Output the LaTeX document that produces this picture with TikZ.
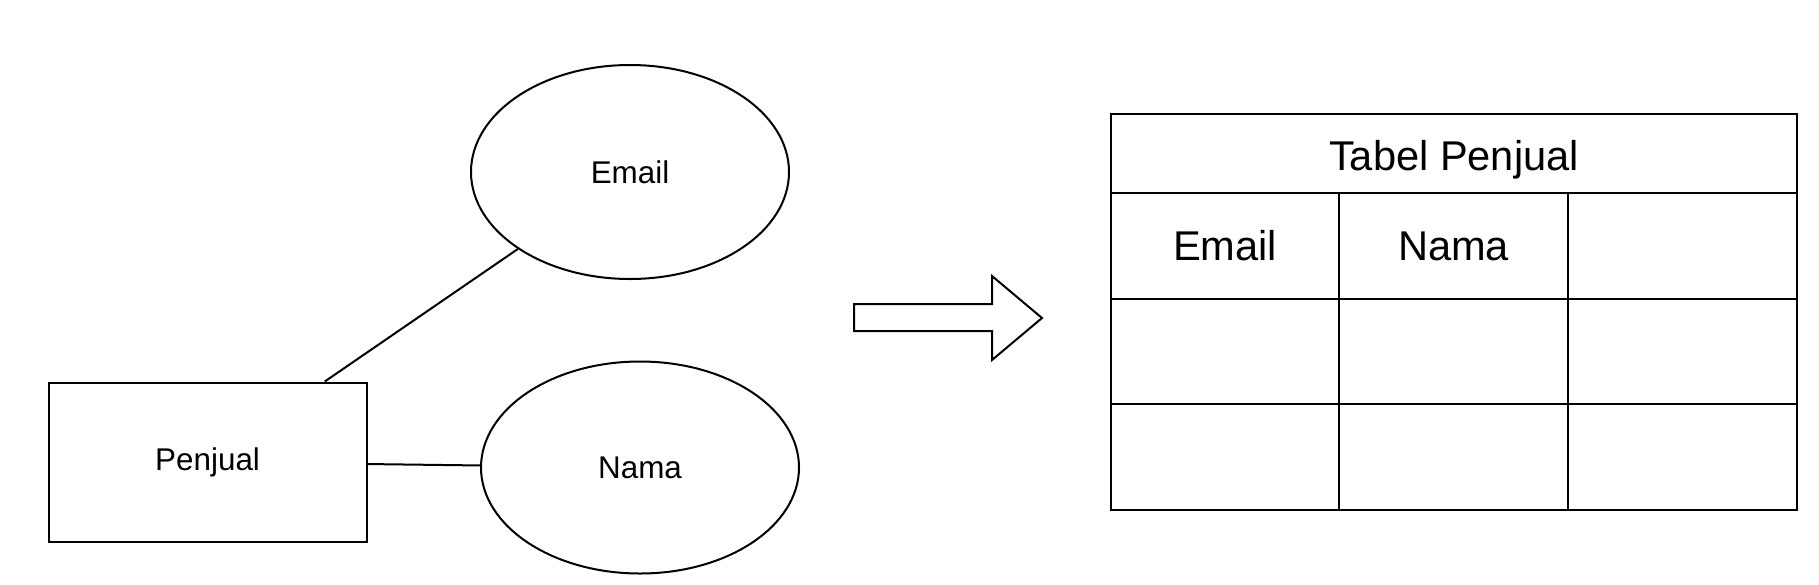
\documentclass[tikz,border=0pt]{standalone}
\usepackage{fontspec}
\setmainfont{Liberation Sans}
\usepackage{tikz}
\usetikzlibrary{shapes.geometric}

\begin{document}
\begin{tikzpicture}[x=0.5pt, y=-0.5pt, line width=1pt,
  entity/.style={draw, rectangle, minimum width=159pt, minimum height=79.5pt, inner sep=0pt, font=\fontsize{15.7}{18}\selectfont},
  attrib/.style={draw, ellipse, minimum width=159pt, minimum height=107pt, inner sep=0pt, font=\fontsize{15.7}{18}\selectfont},
  cell/.style={font=\fontsize{20.8}{24}\selectfont}]
\useasboundingbox (0, 0) rectangle (1819, 584);

\node[entity] (pj) at (207.6, 462) {Penjual};
\node[attrib] (em) at (630, 172) {Email};
\node[attrib, minimum height=106pt] (nm) at (640, 467.5) {Nama};

\draw (pj) -- (em);
\draw (pj) -- (nm);

\draw (854, 304) -- (992, 304) -- (992, 276) -- (1042, 318) -- (992, 360) -- (992, 331) -- (854, 331) -- cycle;

\draw (1111, 114) rectangle (1797, 510);
\draw (1111, 193) -- (1797, 193);
\draw (1111, 298.5) -- (1797, 298.5);
\draw (1111, 404) -- (1797, 404);
\draw (1339, 193) -- (1339, 510);
\draw (1568, 193) -- (1568, 510);

\node[cell] (tabel) at (1454, 160) {Tabel Penjual};
\node[cell] (kemail) at (1225, 246) {Email};
\node[cell] (knama) at (1453.5, 246) {Nama};
\end{tikzpicture}
\end{document}
